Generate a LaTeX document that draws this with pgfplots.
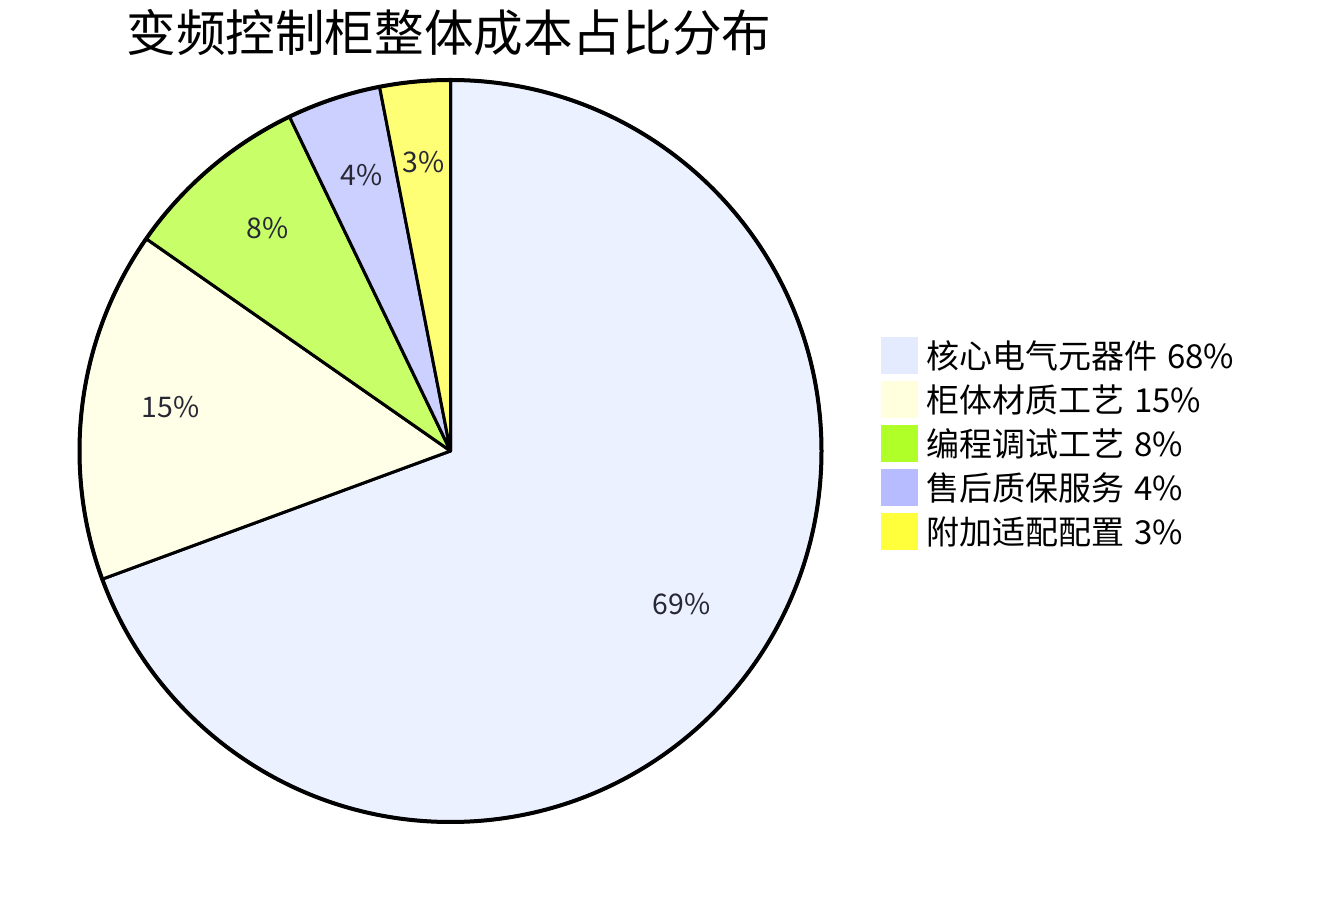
\documentclass[border=0pt]{standalone}
\usepackage{pgfplots}
\pgfplotsset{compat=1.18}
\usepackage{pgfplotstable}
\usepackage{fontspec}
\setmainfont{Noto Sans CJK SC}

\definecolor{cA}{RGB}{228,235,255}
\definecolor{cB}{RGB}{255,255,222}
\definecolor{cC}{RGB}{176,255,40}
\definecolor{cD}{RGB}{182,188,255}
\definecolor{cE}{RGB}{255,255,60}
\definecolor{labtxt}{RGB}{40,40,52}

% cost share, clockwise from 12 o'clock
\pgfplotstableread{
part value col
核心电气元器件 68 cA
柜体材质工艺 15 cB
编程调试工艺 8 cC
售后质保服务 4 cD
附加适配配置 3 cE
}\costdata

\begin{document}
\begin{tikzpicture}
\begin{axis}[
    hide axis, scale only axis, clip=false,
    x=0.5pt, y=0.5pt,
    xmin=0, xmax=1329, ymin=0, ymax=900,
]
% keep the whole canvas in the picture
\path (axis cs:0,0) rectangle (axis cs:1329,900);
\def\cx{450.5}\def\cy{449}\def\R{185.5pt}
\def\total{0}
\pgfplotsforeachungrouped \i in {0,...,4}{%
  \pgfplotstablegetelem{\i}{value}\of\costdata
  \pgfmathsetmacro\total{\total+\pgfplotsretval}%
}
\def\startang{90}
\pgfplotsforeachungrouped \i in {0,...,4}{%
  \pgfplotstablegetelem{\i}{value}\of\costdata \let\val\pgfplotsretval
  \pgfplotstablegetelem{\i}{col}\of\costdata \let\col\pgfplotsretval
  \pgfplotstablegetelem{\i}{part}\of\costdata \let\name\pgfplotsretval
  \pgfmathsetmacro\endang{\startang-360/\total*\val}%
  \pgfmathsetmacro\midang{(\startang+\endang)/2}%
  \pgfmathtruncatemacro\pct{round(100/\total*\val)}%
  \pgfmathsetmacro\ly{544-44*\i}%
  \edef\slice{%
    \noexpand\filldraw[fill=\col!70!white, draw=black, line width=1.5pt, line join=round]
      (axis cs:\cx,\cy) -- ++(\startang:\R) arc[start angle=\startang, end angle=\endang, radius=\R] -- cycle;
    \noexpand\node[text=labtxt, yshift=4pt, font=\noexpand\fontsize{14.2}{17}\noexpand\selectfont]
      at ([shift={(\midang:141pt)}]axis cs:\cx,\cy) {\pct\noexpand\%};
    \noexpand\fill[\col] (axis cs:881,\ly-18.5) rectangle (axis cs:918,\ly+18.5);
    \noexpand\node[anchor=west, inner sep=0pt, font=\noexpand\fontsize{16.5}{19}\noexpand\selectfont]
      at (axis cs:926,\ly) {\name\noexpand\hspace{0.3em}\val\noexpand\%};
  }%
  \slice
  \let\startang\endang
}
\draw[line width=2pt] (axis cs:\cx,\cy) circle[radius=\R];
\node[anchor=west, inner sep=0pt, font=\fontsize{24.8}{30}\selectfont] at (axis cs:126,867) {变频控制柜整体成本占比分布};
\end{axis}
\end{tikzpicture}
\end{document}
